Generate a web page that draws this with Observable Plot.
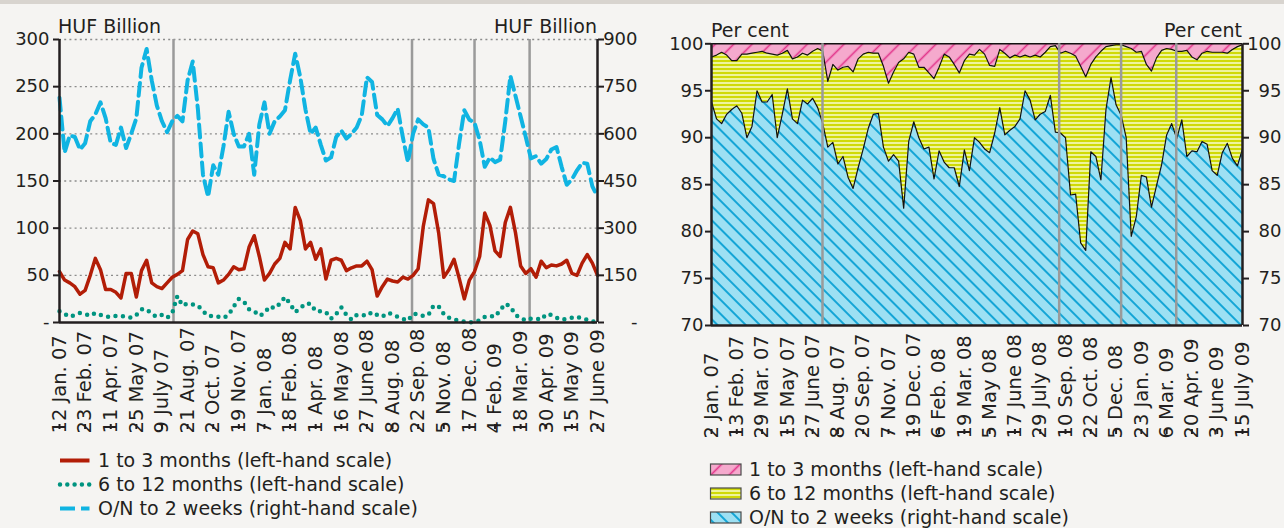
<!DOCTYPE html>
<html><head><meta charset="utf-8">
<script src="https://cdn.jsdelivr.net/npm/d3@7"></script>
<script src="https://cdn.jsdelivr.net/npm/@observablehq/plot@0.6"></script>
<style>
html,body{margin:0;padding:0}
body{background:#f5f4f2;width:1284px;height:528px;overflow:hidden;position:relative;font-family:"DejaVu Sans",sans-serif;color:#231f20}
#band{position:absolute;left:0;top:0;width:1284px;height:4px;background:#d8d4cf}
#left{position:absolute;left:0;top:0;width:640px;height:440px}
#right{position:absolute;left:640px;top:0;width:644px;height:445px}
#over{position:absolute;left:0;top:0;pointer-events:none}
</style></head>
<body>
<div id="band"></div>
<div id="left"></div>
<div id="right"></div>
<svg id="over" width="1284" height="528"></svg>
<script>
// ---------- DATA ----------
const labelsL = ["12 Jan. 07","23 Feb. 07","11 Apr. 07","25 May 07","9 July 07","21 Aug. 07","2 Oct. 07","19 Nov. 07","7 Jan. 08","18 Feb. 08","1 Apr. 08","16 May 08","27 June 08","8 Aug. 08","22 Sep. 08","5 Nov. 08","17 Dec. 08","4 Feb. 09","18 Mar. 09","30 Apr. 09","15 May 09","27 June 09"];
const labelsR = ["2 Jan. 07","13 Feb. 07","29 Mar. 07","15 May 07","27 June 07","8 Aug. 07","20 Sep. 07","7 Nov. 07","19 Dec. 07","6 Feb. 08","19 Mar. 08","5 May 08","17 June 08","29 July 08","10 Sep. 08","22 Oct. 08","5 Dec. 08","23 Jan. 09","6 Mar. 09","20 Apr. 09","3 June 09","15 July 09"];

// HUF billion, 1 to 3 months (left-hand scale)
const huf1to3 = [54,45,42,38,30,34,50,68,56,35,
 35,32,26,52,52,27,55,66,42,38,
 36,42,48,51,55,88,97,94,72,59,
 58,42,45,51,59,56,57,80,92,70,
 45,52,62,68,85,78,122,108,78,85,
 67,78,46,66,68,66,55,58,60,60,
 65,56,28,38,46,44,43,48,46,50,
 57,102,130,126,95,48,56,67,47,25,
 45,54,70,116,103,76,70,106,122,95,
 60,52,57,48,65,58,61,60,62,66,
 52,50,63,72,63,50];
// HUF billion, 6 to 12 months (left-hand scale)
const huf6to12 = [12,9,6,8,10,9,7,10,8,6,
 6,7,7,6,5,8,14,14,9,6,
 8,5,10,28,18,20,19,18,12,7,
 7,6,5,8,17,25,22,14,12,7,
 10,17,15,20,27,20,11,15,20,20,
 12,12,11,4,9,16,8,3,8,8,
 7,11,8,6,10,9,6,4,2,9,
 9,7,8,18,17,9,5,3,2,1,
 0,1,2,6,7,6,13,20,17,8,
 5,2,4,4,3,9,8,5,3,4,
 5,6,4,3,1,1];
// HUF billion, O/N to 2 weeks (right-hand scale)
const hufON = [715,540,595,590,550,570,640,662,700,650,
 571,565,620,555,600,650,810,870,770,690,
 640,605,640,657,640,770,830,680,470,400,
 500,470,560,670,600,560,560,600,470,630,
 700,600,640,655,675,770,855,780,678,600,
 620,565,515,525,590,610,585,600,620,660,
 780,765,660,646,625,650,680,590,510,600,
 646,630,620,520,470,465,455,450,570,675,
 645,635,580,495,525,510,518,640,784,720,
 655,590,522,529,505,520,550,558,495,438,
 455,484,508,505,433,400];

// Per cent: cumulative share, top of O/N to 2 weeks band
const shareON = [93.8,92.0,91.5,92.5,93.0,93.4,92.6,90.0,91.2,95.0,
 93.8,93.8,94.6,90.0,92.5,95.2,92.0,91.5,94.0,93.6,
 94.2,93.2,91.5,89.0,89.5,87.2,88.0,85.8,84.6,86.8,
 88.8,91.0,92.5,92.6,89.0,87.5,88.2,87.5,82.5,89.6,
 91.7,90.0,88.8,89.0,85.6,88.6,87.4,86.8,86.8,84.8,
 88.7,86.5,90.0,89.5,88.8,88.4,90.5,93.2,90.3,90.8,
 91.2,92.0,95.0,94.0,91.9,92.5,92.8,94.5,90.6,90.5,
 90.0,83.9,84.0,78.8,78.0,88.5,88.0,85.5,93.0,96.4,
 93.5,92.4,90.0,79.5,81.6,86.0,85.8,82.6,84.9,87.1,
 90.3,91.5,89.9,91.9,88.0,88.6,88.5,89.6,89.3,86.5,
 86.0,88.4,89.4,87.8,87.0,88.8];
// Per cent: cumulative share, top of 6 to 12 months band
const share612 = [98.6,98.8,99.1,98.8,98.2,98.2,98.9,98.9,99.0,99.1,
 99.2,99.0,98.9,98.8,99.0,99.3,98.4,98.6,99.0,98.8,
 99.2,99.5,99.2,96.0,97.8,97.2,97.5,97.6,97.0,98.4,
 98.9,99.1,99.0,99.0,97.6,95.8,97.0,98.0,98.4,99.1,
 98.9,97.5,97.5,96.9,96.3,97.5,98.9,98.6,97.8,96.9,
 98.2,98.9,98.8,99.4,98.9,97.7,97.6,99.4,99.0,98.5,
 98.8,98.6,98.8,98.6,98.8,98.6,99.1,99.7,99.8,99.0,
 99.2,99.0,98.7,97.6,96.5,97.8,98.6,99.2,99.7,99.8,
 99.9,99.9,99.7,99.5,99.1,99.2,97.8,97.1,98.5,99.3,
 99.5,99.4,99.2,99.2,99.3,98.6,98.3,99.0,99.2,99.1,
 99.1,99.1,99.0,99.4,99.7,99.9];

// event markers (in tick-label units)
const eventsL = [4.45, 13.76, 16.2, 18.35];
const eventsR = [4.39, 13.75, 16.2, 18.38];
const ticksL = [0,50,100,150,200,250,300];
const ticksR = [70,75,80,85,90,95,100];

// ---------- BUILD ----------
const rowsL = huf1to3.map((v,i)=>({t:i/5, a:v, b:huf6to12[i], c:hufON[i]}));
const rowsR = shareON.map((v,i)=>({t:i/5, blue:v, yel:share612[i]}));
const idx = d3.range(labelsL.length);
const INK = "#231f20";
const noText = () => "";

const left = Plot.plot({
  width:640, height:440,
  marginLeft:59, marginRight:43, marginTop:39, marginBottom:118,
  style:{background:"transparent", fontFamily:"DejaVu Sans", fontSize:"18px", color:INK, overflow:"visible"},
  x:{domain:[0,21], label:null},
  y:{domain:[0,300], label:null},
  marks:[
    Plot.ruleY(ticksL.slice(1), {stroke:"#8c8c8c", strokeWidth:1.3, strokeDasharray:"2,3.2"}),
    Plot.ruleX(eventsL, {stroke:"#9a9a9a", strokeWidth:2.5}),
    Plot.lineY(rowsL, {x:"t", y:"b", stroke:"#009480", strokeWidth:4.5, strokeDasharray:"0,7.5", strokeLinecap:"round"}),
    Plot.lineY(rowsL, {x:"t", y:"a", stroke:"#b21d07", strokeWidth:3.5, strokeLinejoin:"round"}),
    Plot.lineY(rowsL, {x:"t", y:d=>d.c/3, stroke:"#10b4e2", strokeWidth:4, strokeDasharray:"13,6"}),
    Plot.ruleX([0,21], {stroke:INK, strokeWidth:2.5}),
    Plot.ruleY([0], {stroke:INK, strokeWidth:2.5}),
    Plot.axisY({anchor:"left", ticks:ticksL, tickFormat:d=>d===0?"-":d, tickSize:6, tickPadding:4, strokeWidth:2, label:null}),
    Plot.axisY({anchor:"right", ticks:ticksL, tickFormat:noText, tickSize:6, strokeWidth:2, label:null}),
    Plot.axisY({anchor:"right", ticks:ticksL, tickFormat:d=>d===0?"-":d*3, tickSize:0, tickPadding:9, textAnchor:"end", dx:31, label:null}),
    Plot.axisX({ticks:idx, tickFormat:i=>labelsL[i], tickRotate:-90, textAnchor:"start", lineAnchor:"middle", tickSize:5, tickPadding:4, dy:102, fontSize:19.5, strokeWidth:2, label:null})
  ]
});
document.getElementById("left").appendChild(left);

const right = Plot.plot({
  width:644, height:445,
  marginLeft:71, marginRight:42, marginTop:43.3, marginBottom:120,
  style:{background:"transparent", fontFamily:"DejaVu Sans", fontSize:"18px", color:INK, overflow:"visible"},
  x:{domain:[0,21], label:null},
  y:{domain:[70,100], label:null},
  marks:[
    Plot.areaY(rowsR, {x:"t", y1:70, y2:"blue", fill:"url(#patBlue)"}),
    Plot.areaY(rowsR, {x:"t", y1:"blue", y2:"yel", fill:"url(#patYel)"}),
    Plot.areaY(rowsR, {x:"t", y1:"yel", y2:100, fill:"url(#patPink)"}),
    Plot.lineY(rowsR, {x:"t", y:"yel", stroke:"#111", strokeWidth:1.2}),
    Plot.lineY(rowsR, {x:"t", y:"blue", stroke:"#111", strokeWidth:1.2}),
    Plot.ruleY([100], {stroke:"#111", strokeWidth:1.5}),
    Plot.ruleX(eventsR, {stroke:"#9a9a9a", strokeWidth:2.5}),
    Plot.ruleX([0,21], {stroke:INK, strokeWidth:2.5}),
    Plot.ruleY([70], {stroke:INK, strokeWidth:2.5}),
    Plot.axisY({anchor:"left", ticks:ticksR, tickSize:6, tickPadding:2, strokeWidth:2, label:null}),
    Plot.axisY({anchor:"right", ticks:ticksR, tickFormat:noText, tickSize:6, strokeWidth:2, label:null}),
    Plot.axisY({anchor:"right", ticks:ticksR, tickSize:0, tickPadding:8, textAnchor:"end", dx:31, label:null}),
    Plot.axisX({ticks:idx, tickFormat:i=>labelsR[i], tickRotate:-90, textAnchor:"start", lineAnchor:"middle", tickSize:5, tickPadding:4, dy:104, fontSize:19.5, strokeWidth:2, label:null})
  ]
});
const defs = document.createElementNS("http://www.w3.org/2000/svg","defs");
defs.innerHTML = `
<pattern id="patBlue" patternUnits="userSpaceOnUse" width="10" height="10" patternTransform="rotate(-45)">
  <rect width="10" height="10" fill="#9de0f3"/>
  <line x1="5" y1="-1" x2="5" y2="11" stroke="#14a5d6" stroke-width="2"/>
</pattern>
<pattern id="patPink" patternUnits="userSpaceOnUse" width="13" height="13" patternTransform="rotate(45)">
  <rect width="13" height="13" fill="#f5a9cd"/>
  <line x1="6.5" y1="-1" x2="6.5" y2="14" stroke="#e2338a" stroke-width="1.6"/>
</pattern>
<pattern id="patYel" patternUnits="userSpaceOnUse" width="8" height="4">
  <rect width="8" height="4" fill="#eef49c"/>
  <rect y="0" width="8" height="2" fill="#d0da06"/>
</pattern>`;
right.insertBefore(defs, right.firstChild);
document.getElementById("right").appendChild(right);

// ---------- TITLES & LEGENDS ----------
const over = d3.select("#over");
const txt = (x,y,s,anchor="start",size=19)=>over.append("text").attr("x",x).attr("y",y).attr("text-anchor",anchor)
  .attr("font-family","DejaVu Sans").attr("font-size",size).attr("fill",INK).text(s);
txt(58,33,"HUF Billion");
txt(597,33,"HUF Billion","end");
txt(711,37,"Per cent");
txt(1242,37,"Per cent","end");

const legL = [
  {name:"1 to 3 months (left-hand scale)", color:"#b21d07", dash:null, w:4},
  {name:"6 to 12 months (left-hand scale)", color:"#009480", dash:"0,7.3", w:4.5},
  {name:"O/N to 2 weeks (right-hand scale)", color:"#10b4e2", dash:"15,6", w:4}
];
legL.forEach((d,i)=>{
  const y = 460.5 + i*24;
  const l = over.append("line").attr("x1",60).attr("x2",89.5).attr("y1",y).attr("y2",y)
    .attr("stroke",d.color).attr("stroke-width",d.w);
  if (d.dash) l.attr("stroke-dasharray",d.dash);
  if (i===1) l.attr("stroke-linecap","round");
  txt(98, y+6.5, d.name);
});
const legR = [
  {name:"1 to 3 months (left-hand scale)", fill:"url(#patPink)"},
  {name:"6 to 12 months (left-hand scale)", fill:"url(#patYel)"},
  {name:"O/N to 2 weeks (right-hand scale)", fill:"url(#patBlue)"}
];
legR.forEach((d,i)=>{
  const y = 464 + i*24;
  over.append("rect").attr("x",710.5).attr("y",y).attr("width",30.5).attr("height",11)
    .attr("fill",d.fill).attr("stroke","#4a4a4a").attr("stroke-width",1.2);
  txt(749, y+11.5, d.name);
});
</script>
</body></html>
